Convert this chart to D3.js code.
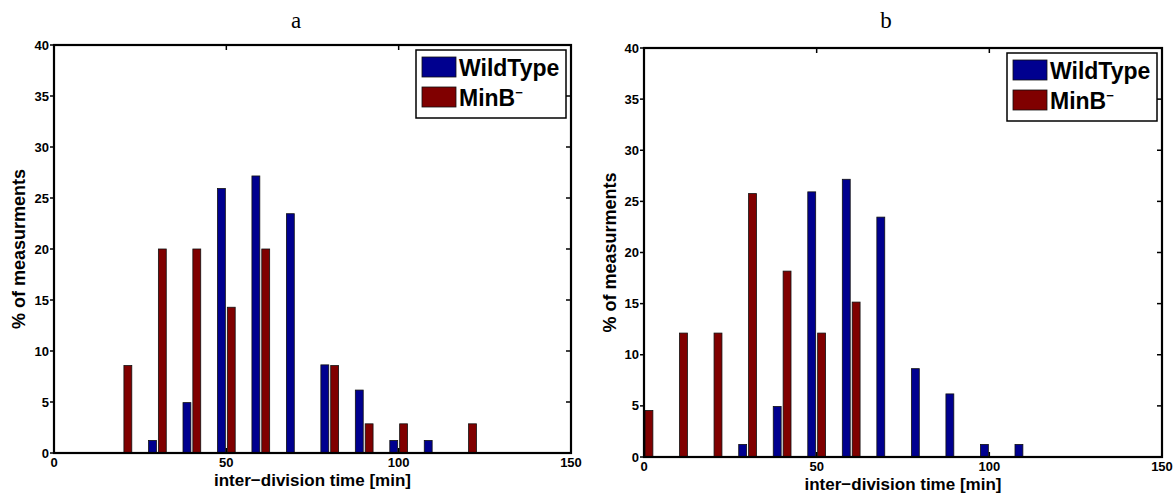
<!DOCTYPE html>
<html>
<head>
<meta charset="utf-8">
<script src="https://cdn.jsdelivr.net/npm/d3@7"></script>
<style>
  html, body { margin: 0; padding: 0; background: #fff; }
  svg { display: block; }
  text { font-family: "Liberation Sans", Arial, Helvetica, sans-serif; }
</style>
</head>
<body>
<svg id="chart" width="1175" height="495"></svg>
<script>
// ---- data ----
const bins = [0, 10, 20, 30, 40, 50, 60, 70, 80, 90, 100, 110, 120];
const wildTypeA = [0, 0, 0, 1.23, 4.94, 25.93, 27.16, 23.46, 8.64, 6.17, 1.23, 1.23, 0];
const minBA     = [0, 0, 8.57, 20, 20, 14.29, 20, 0, 8.57, 2.86, 2.86, 0, 2.86];
const wildTypeB = [0, 0, 0, 1.23, 4.94, 25.93, 27.16, 23.46, 8.64, 6.17, 1.23, 1.23, 0];
const minBB     = [4.55, 12.12, 12.12, 25.76, 18.18, 12.12, 15.15, 0, 0, 0, 0, 0, 0];
const xTicks = [0, 50, 100, 150];
const yTicks = [0, 5, 10, 15, 20, 25, 30, 35, 40];
const seriesNames = ["WildType", "MinB"];
const panelTitles = ["a", "b"];
const xLabel = "inter\u2212division time [min]";
const yLabel = "% of measurments";

const colors = ["#00008F", "#800000"];

const svg = d3.select("#chart");

const panels = [
  { title: panelTitles[0], series: [wildTypeA, minBA], x0: 54, x1: 571, yTop: 45, yBot: 453, ylabX: 19, titleX: 296 },
  { title: panelTitles[1], series: [wildTypeB, minBB], x0: 644, x1: 1162, yTop: 48, yBot: 457, ylabX: 610, titleX: 886 }
];

// MATLAB grouped-bar geometry (in data units)
const binStep = 10;
const groupW = binStep * Math.min(0.8, 2 / 3.5);
const slotW = groupW / 2;
const barW = slotW * 0.8;

panels.forEach(p => {
  const x = d3.scaleLinear().domain([0, 150]).range([p.x0, p.x1]);
  const y = d3.scaleLinear().domain([0, 40]).range([p.yBot, p.yTop]);
  const g = svg.append("g");

  // title
  g.append("text")
    .attr("x", p.titleX).attr("y", 28)
    .attr("text-anchor", "middle")
    .style("font-family", "'Liberation Serif', 'Times New Roman', serif")
    .style("font-size", "23px")
    .text(p.title);

  // bars
  p.series.forEach((vals, si) => {
    const off = (si === 0 ? -1 : 1) * slotW / 2;
    const data = bins.map((b, i) => ({ b, v: vals[i] })).filter(d => d.v > 0);
    g.selectAll(null).data(data).enter().append("rect")
      .attr("x", d => x(d.b + off - barW / 2))
      .attr("width", d => x(d.b + off + barW / 2) - x(d.b + off - barW / 2))
      .attr("y", d => y(d.v))
      .attr("height", d => y(0) - y(d.v))
      .attr("fill", colors[si])
      .attr("stroke", "#111")
      .attr("stroke-width", 0.8);
  });

  // axes box
  const tk = 5;
  const axG = g.append("g").attr("stroke", "#000").attr("fill", "none");
  axG.append("rect")
    .attr("x", p.x0).attr("y", p.yTop)
    .attr("width", p.x1 - p.x0).attr("height", p.yBot - p.yTop)
    .attr("stroke-width", 2.2);

  // y ticks: left (outward), right (inward)
  yTicks.forEach(t => {
    axG.append("line").attr("x1", p.x0 - 4).attr("x2", p.x0).attr("y1", y(t)).attr("y2", y(t)).attr("stroke-width", 1.5);
    axG.append("line").attr("x1", p.x1 - tk).attr("x2", p.x1).attr("y1", y(t)).attr("y2", y(t)).attr("stroke-width", 1.5);
  });
  // x ticks: top & bottom inward
  xTicks.forEach(t => {
    axG.append("line").attr("x1", x(t)).attr("x2", x(t)).attr("y1", p.yBot).attr("y2", p.yBot - tk).attr("stroke-width", 1.5);
    axG.append("line").attr("x1", x(t)).attr("x2", x(t)).attr("y1", p.yTop).attr("y2", p.yTop + tk).attr("stroke-width", 1.5);
  });

  // tick labels
  g.selectAll(null).data(yTicks).enter().append("text")
    .attr("x", p.x0 - 5).attr("y", d => y(d) + 4.5)
    .attr("text-anchor", "end")
    .style("font-size", "13px").style("font-weight", "bold")
    .text(d => d);
  g.selectAll(null).data(xTicks).enter().append("text")
    .attr("x", d => x(d)).attr("y", p.yBot + 14)
    .attr("text-anchor", "middle")
    .style("font-size", "13px").style("font-weight", "bold")
    .text(d => d);

  // axis labels
  g.append("text")
    .attr("x", (p.x0 + p.x1) / 2).attr("y", p.yBot + 33)
    .attr("text-anchor", "middle")
    .style("font-size", "17px").style("font-weight", "bold")
    .text(xLabel);
  g.append("text")
    .attr("transform", `translate(${p.ylabX + 6},${(p.yTop + p.yBot) / 2}) rotate(-90)`)
    .attr("text-anchor", "middle")
    .style("font-size", "18px").style("font-weight", "bold")
    .text(yLabel);

  // legend
  const lx = p.x1 - 155, ly = p.yTop + 5;
  const lg = g.append("g");
  lg.append("rect")
    .attr("x", lx).attr("y", ly).attr("width", 150).attr("height", 68)
    .attr("fill", "#fff").attr("stroke", "#000").attr("stroke-width", 1.5);
  seriesNames.forEach((name, i) => {
    const ry = ly + 7 + i * 30;
    lg.append("rect")
      .attr("x", lx + 6).attr("y", ry).attr("width", 34).attr("height", 20)
      .attr("fill", colors[i]).attr("stroke", "#111").attr("stroke-width", 0.8);
    const t = lg.append("text")
      .attr("x", lx + 43).attr("y", ry + 19)
      .style("font-size", "23px").style("font-weight", "bold")
      .text(name);
    if (i === 1) {
      t.append("tspan").attr("dy", -9).style("font-size", "13px").text("\u2212");
    }
  });
});
</script>
</body>
</html>
